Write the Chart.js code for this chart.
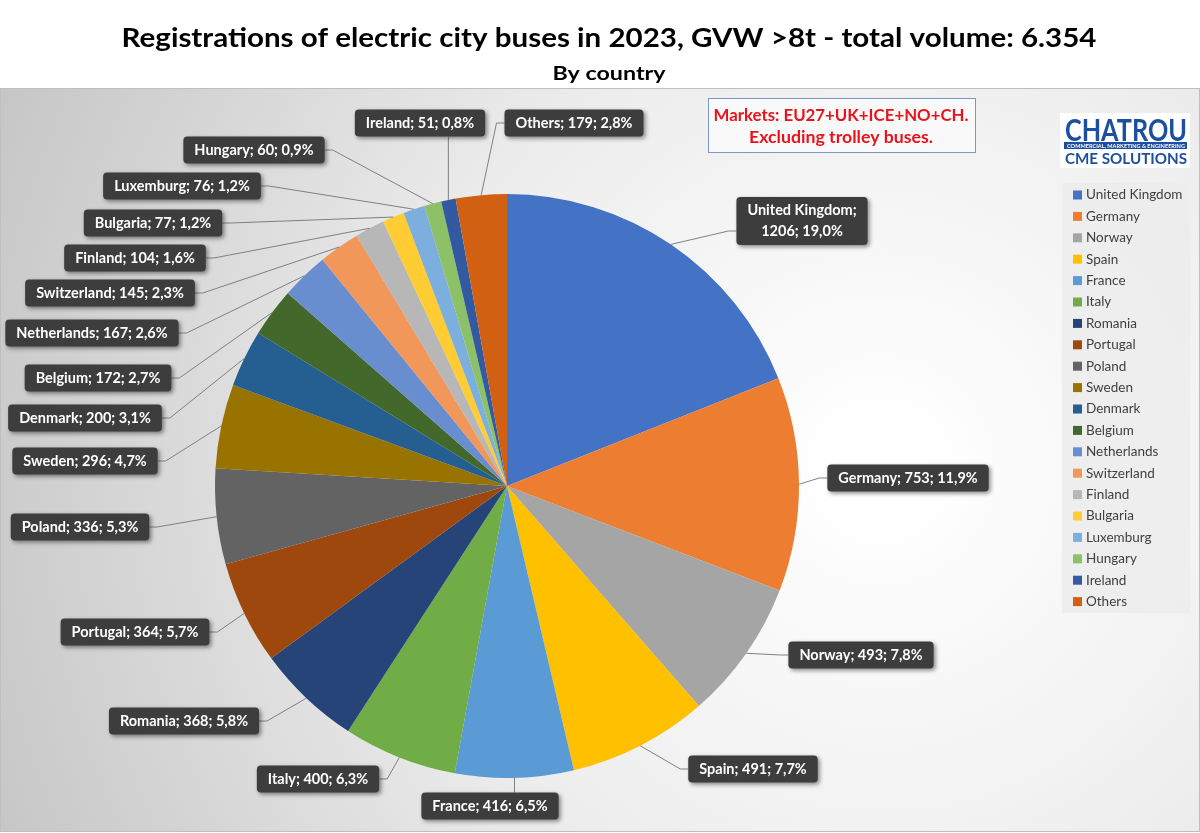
<!DOCTYPE html>
<html>
<head>
<meta charset="utf-8">
<title>Electric city buses 2023</title>
<script src="https://cdn.jsdelivr.net/npm/chart.js@4.4.1/dist/chart.umd.min.js"></script>
<style>
  html, body { margin: 0; padding: 0; background: #fff; }
  #wrap { width: 1200px; height: 833px; }
</style>
</head>
<body>
<div id="wrap"><canvas id="graph1" width="1200" height="833"></canvas></div>
<script>
  //-------------------------------------- data --------------------------
  const countries = ['United Kingdom', 'Germany', 'Norway', 'Spain', 'France', 'Italy', 'Romania',
    'Portugal', 'Poland', 'Sweden', 'Denmark', 'Belgium', 'Netherlands', 'Switzerland', 'Finland',
    'Bulgaria', 'Luxemburg', 'Hungary', 'Ireland', 'Others'];
  const registrations = [1206, 753, 493, 491, 416, 400, 368, 364, 336, 296, 200, 172, 167, 145, 104, 77, 76, 60, 51, 179];
  const sliceColors = ['#4472C4', '#ED7D31', '#A5A5A5', '#FFC000', '#5B9BD5', '#70AD47', '#264478',
    '#9E480E', '#636363', '#997300', '#255E91', '#43682B', '#698ED0', '#F1975A', '#B7B7B7',
    '#FFCD33', '#7CAFDD', '#8CC168', '#335AA1', '#D26012'];
  const titleText = 'Registrations of electric city buses in 2023, GVW >8t - total volume: 6.354';
  const subtitleText = 'By country';
  const noteLines = ['Markets: EU27+UK+ICE+NO+CH.', 'Excluding trolley buses.'];

  // where each data label box sits (centre), layout only
  const labelSpots = [
    [802, 221], [908, 478], [861, 655], [753, 769], [490, 806], [318, 779], [184, 721],
    [135, 632], [80, 527], [85, 461], [85, 418], [98, 378], [92, 333], [110, 293],
    [135, 258], [153, 223], [182, 186], [254, 150], [420, 123], [574, 123]
  ];

  const total = registrations.reduce((a, b) => a + b, 0);
  const pct = v => (v / total * 100).toFixed(1).replace('.', ',') + '%';
  const FONT = 'Lato, "Open Sans", sans-serif';

  function roundRect(ctx, x, y, w, h, r) {
    ctx.beginPath();
    ctx.moveTo(x + r, y);
    ctx.arcTo(x + w, y, x + w, y + h, r);
    ctx.arcTo(x + w, y + h, x, y + h, r);
    ctx.arcTo(x, y + h, x, y, r);
    ctx.arcTo(x, y, x + w, y, r);
    ctx.closePath();
  }

  // squeeze text to a given width
  function fitText(ctx, text, cx, y, width) {
    const w = ctx.measureText(text).width;
    ctx.save();
    ctx.translate(cx, y);
    ctx.scale(width / w, 1);
    ctx.textAlign = 'center';
    ctx.fillText(text, 0, 0);
    ctx.restore();
  }

  const backdrop = {
    id: 'backdrop',
    beforeDraw(chart) {
      const ctx = chart.ctx;
      ctx.save();
      ctx.fillStyle = '#fff';
      ctx.fillRect(0, 0, chart.width, chart.height);
      const g = ctx.createRadialGradient(880, 470, 40, 880, 470, 980);
      g.addColorStop(0, '#ffffff');
      g.addColorStop(0.45, '#ededed');
      g.addColorStop(1, '#c4c4c4');
      ctx.fillStyle = g;
      ctx.fillRect(0, 88, chart.width, 744);
      ctx.strokeStyle = '#bfbfbf';
      ctx.lineWidth = 1;
      ctx.strokeRect(0.5, 88.5, chart.width - 1, 743);

      // titles
      ctx.fillStyle = '#000';
      ctx.textBaseline = 'alphabetic';
      ctx.font = 'bold 27px ' + FONT;
      fitText(ctx, titleText, 609, 47, 975);
      ctx.font = 'bold 19px ' + FONT;
      fitText(ctx, subtitleText, 609, 80, 113);

      // note box
      ctx.fillStyle = 'rgba(250,250,250,0.9)';
      ctx.fillRect(708, 98, 267, 54);
      ctx.strokeStyle = '#7b96c9';
      ctx.strokeRect(708.5, 98.5, 267, 54);
      ctx.fillStyle = '#e8141b';
      ctx.font = 'bold 17px ' + FONT;
      fitText(ctx, noteLines[0], 841, 121, 255);
      fitText(ctx, noteLines[1], 841, 143, 184);

      // logo
      ctx.fillStyle = '#fff';
      ctx.fillRect(1060, 113, 130, 55);
      ctx.fillStyle = '#1d4f9e';
      ctx.font = 'bold 30px ' + FONT;
      fitText(ctx, 'CHATROU', 1126, 141, 122);
      ctx.fillRect(1064, 142, 123, 7);
      ctx.fillStyle = '#fff';
      ctx.font = 'bold 6px ' + FONT;
      fitText(ctx, 'COMMERCIAL, MARKETING & ENGINEERING', 1126, 148, 118);
      ctx.fillStyle = '#1d4f9e';
      ctx.font = 'bold 15px ' + FONT;
      fitText(ctx, 'CME SOLUTIONS', 1126, 164, 122);

      // legend
      ctx.fillStyle = 'rgba(236,236,236,0.85)';
      ctx.fillRect(1062, 183, 128, 430);
      ctx.font = '13.5px ' + FONT;
      ctx.textAlign = 'left';
      ctx.textBaseline = 'middle';
      countries.forEach((c, i) => {
        const y = 195 + i * 21.4;
        ctx.fillStyle = sliceColors[i];
        ctx.fillRect(1073, y - 4.5, 9, 9);
        ctx.fillStyle = '#404040';
        ctx.fillText(c, 1086, y);
      });
      ctx.restore();
    }
  };

  const calloutLabels = {
    id: 'calloutLabels',
    afterDatasetsDraw(chart) {
      const ctx = chart.ctx;
      const arcs = chart.getDatasetMeta(0).data;
      ctx.save();
      ctx.font = 'bold 14.5px ' + FONT;
      arcs.forEach((arc, i) => {
        const p = arc.getProps(['x', 'y', 'startAngle', 'endAngle', 'outerRadius'], true);
        const mid = (p.startAngle + p.endAngle) / 2;
        const px = p.x + Math.cos(mid) * p.outerRadius;
        const py = p.y + Math.sin(mid) * p.outerRadius;
        const text = countries[i] + '; ' + registrations[i] + '; ' + pct(registrations[i]);
        const lines = i === 0 ? [countries[i] + ';', registrations[i] + '; ' + pct(registrations[i])] : [text];
        const tw = Math.max(...lines.map(l => ctx.measureText(l).width));
        const bw = tw + 22, bh = lines.length * 21 + 6;
        const [cx, cy] = labelSpots[i];
        const bx = cx - bw / 2, by = cy - bh / 2;

        // leader line
        ctx.strokeStyle = '#808080';
        ctx.lineWidth = 1;
        ctx.beginPath();
        ctx.moveTo(px, py);
        if (px < bx) {
          ctx.lineTo(bx - 8, cy + (i === 0 ? 10 : 0));
          ctx.lineTo(bx, cy + (i === 0 ? 10 : 0));
        } else if (px > bx + bw) {
          ctx.lineTo(bx + bw + 8, cy);
          ctx.lineTo(bx + bw, cy);
        } else {
          ctx.lineTo(px, py < by ? by : by + bh);
        }
        ctx.stroke();

        // box
        ctx.save();
        ctx.shadowColor = 'rgba(0,0,0,0.45)';
        ctx.shadowBlur = 4;
        ctx.shadowOffsetX = 2;
        ctx.shadowOffsetY = 2;
        ctx.fillStyle = '#3d3d3d';
        roundRect(ctx, bx, by, bw, bh, 4);
        ctx.fill();
        ctx.restore();

        ctx.fillStyle = '#fff';
        ctx.textAlign = 'center';
        ctx.textBaseline = 'middle';
        lines.forEach((l, k) => {
          ctx.fillText(l, cx, by + 3 + 10.5 + k * 21);
        });
      });
      ctx.restore();
    }
  };

  const ctx = document.getElementById('graph1');
  new Chart(ctx, {
    type: 'pie',
    data: {
      labels: countries,
      datasets: [{
        data: registrations,
        backgroundColor: sliceColors,
        borderWidth: 0
      }]
    },
    options: {
      responsive: false,
      animation: false,
      layout: { padding: { left: 215, right: 401, top: 194, bottom: 55 } },
      plugins: {
        legend: { display: false },
        tooltip: { enabled: false },
        title: { display: false }
      }
    },
    plugins: [backdrop, calloutLabels]
  });
</script>
</body>
</html>
